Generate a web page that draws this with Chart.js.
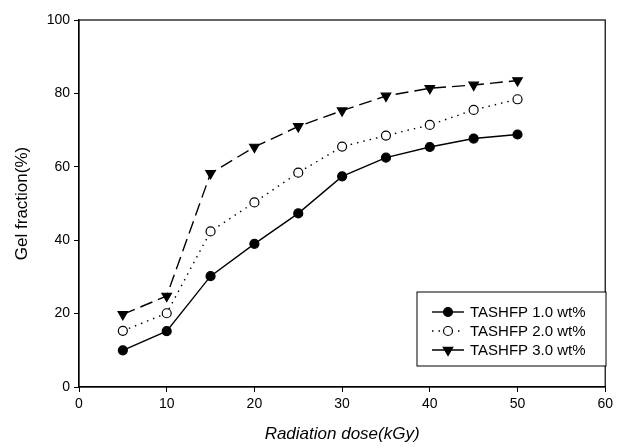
<!DOCTYPE html>
<html>
<head>
<meta charset="utf-8">
<script src="https://cdn.jsdelivr.net/npm/chart.js@4"></script>
<style>
  html, body { margin: 0; padding: 0; background: #fff; }
  #wrap { width: 617px; height: 448px; }
</style>
</head>
<body>
<div id="wrap"><canvas id="gelChart" width="617" height="448"></canvas></div>
<script>
const doses = [5, 10, 15, 20, 25, 30, 35, 40, 45, 50];
const gel10 = [10, 15.2, 30.2, 39, 47.3, 57.4, 62.5, 65.4, 67.7, 68.8];
const gel20 = [15.3, 20.1, 42.4, 50.3, 58.4, 65.5, 68.5, 71.4, 75.5, 78.4];
const gel30 = [19.8, 24.8, 58.2, 65.4, 71, 75.3, 79.3, 81.4, 82.3, 83.5];
const seriesNames = ['TASHFP 1.0 wt%', 'TASHFP 2.0 wt%', 'TASHFP 3.0 wt%'];

const font = "'Liberation Sans', Arial, sans-serif";

function toPoints(ys) {
    return doses.map((d, i) => ({ x: d, y: ys[i] }));
}

// frame around the plot area
const frame = {
    id: 'frame',
    afterDraw(chart) {
        const a = chart.chartArea;
        const ctx = chart.ctx;
        ctx.save();
        ctx.strokeStyle = '#000';
        ctx.lineWidth = 1.2;
        ctx.strokeRect(a.left, a.top, a.right - a.left, a.bottom - a.top);
        ctx.restore();
    }
};

// legend drawn inside the plot, bottom right
const insideLegend = {
    id: 'insideLegend',
    afterDraw(chart) {
        const ctx = chart.ctx;
        const box = { x: 417, y: 292, w: 189, h: 74 };
        ctx.save();
        ctx.fillStyle = '#fff';
        ctx.fillRect(box.x, box.y, box.w, box.h);
        ctx.strokeStyle = '#000';
        ctx.lineWidth = 1;
        ctx.strokeRect(box.x, box.y, box.w, box.h);
        chart.data.datasets.forEach((ds, i) => {
            const cy = box.y + 20 + i * 19;
            ctx.beginPath();
            ctx.setLineDash(ds.borderDash || []);
            ctx.strokeStyle = '#000';
            ctx.lineWidth = ds.borderWidth;
            ctx.moveTo(box.x + 15, cy);
            ctx.lineTo(box.x + 47, cy);
            ctx.stroke();
            ctx.setLineDash([]);
            ctx.fillStyle = ds.pointBackgroundColor;
            ctx.strokeStyle = '#000';
            ctx.lineWidth = 1.2;
            Chart.helpers.drawPoint(ctx, {
                pointStyle: ds.pointStyle,
                rotation: ds.pointRotation || 0,
                radius: ds.pointRadius,
                borderWidth: 1.2
            }, box.x + 31, cy);
            ctx.fillStyle = '#000';
            ctx.font = '15px ' + font;
            ctx.textBaseline = 'middle';
            ctx.fillText(ds.label, box.x + 53, cy + 1);
        });
        ctx.restore();
    }
};

const ctxEl = document.getElementById('gelChart');
new Chart(ctxEl, {
    type: 'line',
    data: {
        datasets: [{
            label: seriesNames[0],
            data: toPoints(gel10),
            borderColor: '#000',
            borderWidth: 1.4,
            pointStyle: 'circle',
            pointRadius: 4.5,
            pointBackgroundColor: '#000',
            pointBorderColor: '#000',
            pointBorderWidth: 1.2
        }, {
            label: seriesNames[1],
            data: toPoints(gel20),
            borderColor: '#000',
            borderWidth: 1.4,
            borderDash: [1.5, 5],
            pointStyle: 'circle',
            pointRadius: 4.5,
            pointBackgroundColor: '#fff',
            pointBorderColor: '#000',
            pointBorderWidth: 1.2
        }, {
            label: seriesNames[2],
            data: toPoints(gel30),
            borderColor: '#000',
            borderWidth: 1.4,
            borderDash: [13, 6],
            pointStyle: 'triangle',
            pointRotation: 180,
            pointRadius: 5.5,
            pointBackgroundColor: '#000',
            pointBorderColor: '#000',
            pointBorderWidth: 1.2
        }]
    },
    options: {
        responsive: false,
        animation: false,
        layout: {
            padding: { top: 20, right: 9, left: 0, bottom: 0 }
        },
        plugins: {
            legend: false,
            tooltip: { enabled: false }
        },
        scales: {
            x: {
                type: 'linear',
                min: 0,
                max: 60,
                afterFit: (scale) => { scale.height = 61; },
                ticks: {
                    stepSize: 10,
                    color: '#000',
                    font: { family: font, size: 14 },
                    padding: 4
                },
                grid: {
                    drawOnChartArea: false,
                    color: '#000',
                    tickLength: 5
                },
                border: { color: '#000', width: 1.2 },
                title: {
                    display: true,
                    text: 'Radiation dose(kGy)',
                    color: '#000',
                    font: { family: font, size: 17, style: 'italic' },
                    padding: { top: 10 }
                }
            },
            y: {
                min: 0,
                max: 100,
                afterFit: (scale) => { scale.width = 79; },
                ticks: {
                    stepSize: 20,
                    color: '#000',
                    font: { family: font, size: 14 },
                    padding: 4
                },
                grid: {
                    drawOnChartArea: false,
                    color: '#000',
                    tickLength: 5
                },
                border: { color: '#000', width: 1.2 },
                title: {
                    display: true,
                    text: 'Gel fraction(%)',
                    color: '#000',
                    font: { family: font, size: 17 },
                    padding: { top: 12, bottom: 2 }
                }
            }
        }
    },
    plugins: [frame, insideLegend]
});
</script>
</body>
</html>
